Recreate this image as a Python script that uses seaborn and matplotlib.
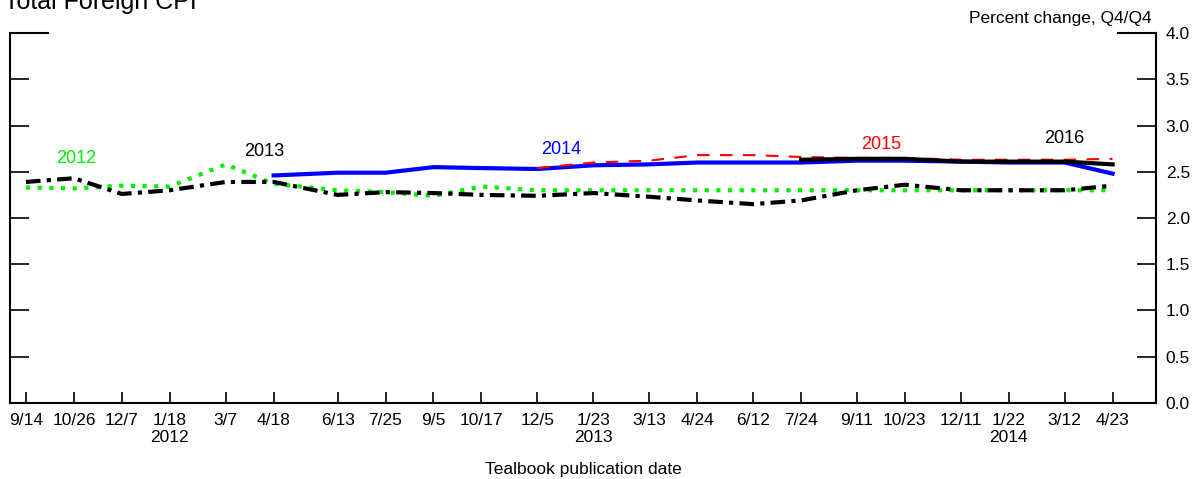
import pandas as pd
import seaborn as sns
import matplotlib.pyplot as plt

# Tealbook publication dates (x axis)
pub_dates = ['2011-09-14', '2011-10-26', '2011-12-07', '2012-01-18', '2012-03-07', '2012-04-18',
             '2012-06-13', '2012-07-25', '2012-09-05', '2012-10-17', '2012-12-05', '2013-01-23',
             '2013-03-13', '2013-04-24', '2013-06-12', '2013-07-24', '2013-09-11', '2013-10-23',
             '2013-12-11', '2014-01-22', '2014-03-12', '2014-04-23']
tick_labels = ['9/14', '10/26', '12/7', '1/18\n2012', '3/7', '4/18', '6/13', '7/25', '9/5', '10/17',
               '12/5', '1/23\n2013', '3/13', '4/24', '6/12', '7/24', '9/11', '10/23', '12/11',
               '1/22\n2014', '3/12', '4/23']

# forecasts, percent change Q4/Q4
y2012 = [2.33, 2.32, 2.35, 2.34, 2.58, 2.37, 2.30, 2.28, 2.24, 2.34, 2.30, 2.30,
         2.30, 2.30, 2.30, 2.30, 2.30, 2.30, 2.30, 2.30, 2.30, 2.30]
y2013 = [2.39, 2.43, 2.26, 2.30, 2.39, 2.39, 2.25, 2.28, 2.27, 2.25, 2.24, 2.27,
         2.23, 2.19, 2.15, 2.19, 2.30, 2.36, 2.30, 2.30, 2.30, 2.35]
y2014 = [2.46, 2.49, 2.49, 2.55, 2.54, 2.53, 2.57, 2.58, 2.60, 2.60, 2.60, 2.62,
         2.62, 2.61, 2.60, 2.60, 2.48]
y2015 = [2.54, 2.60, 2.62, 2.68, 2.68, 2.66, 2.65, 2.65, 2.63, 2.63, 2.63, 2.64]
y2016 = [2.63, 2.64, 2.64, 2.61, 2.61, 2.61, 2.58]

dates = pd.to_datetime(pub_dates)

plt.rcParams['font.family'] = ['Liberation Sans', 'DejaVu Sans']
fig = plt.figure(figsize=(12.02, 4.79), dpi=100)
ax = fig.add_axes([0.0083, 0.1587, 0.9534, 0.7723])

sns.lineplot(x=dates, y=y2012, ax=ax, color='#00ee00', linewidth=3,
             linestyle=(0, (1, 1.8)))
sns.lineplot(x=dates, y=y2013, ax=ax, color='black', linewidth=3,
             linestyle=(0, (3.5, 1.5, 1, 1.5)))
sns.lineplot(x=dates[5:], y=y2014, ax=ax, color='#0000ff', linewidth=3)
sns.lineplot(x=dates[10:], y=y2015, ax=ax, color='#ff0000', linewidth=1.5,
             linestyle=(0, (6, 5)))
sns.lineplot(x=dates[15:], y=y2016, ax=ax, color='black', linewidth=3)

fs = 12.5
ax.text(pd.Timestamp('2011-10-28'), 2.64, '2012', color='#00ee00', fontsize=13, ha='center', va='center')
ax.text(pd.Timestamp('2012-04-10'), 2.72, '2013', color='black', fontsize=13, ha='center', va='center')
ax.text(pd.Timestamp('2012-12-26'), 2.74, '2014', color='#0000ff', fontsize=13, ha='center', va='center')
ax.text(pd.Timestamp('2013-10-02'), 2.80, '2015', color='#ff0000', fontsize=13, ha='center', va='center')
ax.text(pd.Timestamp('2014-03-12'), 2.86, '2016', color='black', fontsize=13, ha='center', va='center')

ax.set_xlim(pd.Timestamp('2011-08-31'), pd.Timestamp('2014-05-31'))
ax.set_ylim(0, 4)
ax.set_xticks(dates)
ax.set_xticklabels(tick_labels, fontsize=fs, linespacing=1.2)
ax.xaxis.set_minor_locator(plt.NullLocator())
ax.tick_params(axis='x', direction='in', length=8, width=1.2, pad=7)

yt = [0, 0.5, 1, 1.5, 2, 2.5, 3, 3.5, 4]
ax.set_yticks(yt)
ax.tick_params(axis='y', which='both', direction='in', length=14, width=1.2,
               left=True, right=True, labelleft=False, labelright=True, labelsize=fs, pad=7)
ax.set_yticklabels(['%.1f' % v for v in yt])

ax.spines['top'].set_visible(False)
for s in ['left', 'right', 'bottom']:
    ax.spines[s].set_linewidth(1.5)
ax.plot([0, 0.033], [1, 1], transform=ax.transAxes, color='black', lw=1.5, clip_on=False)
ax.plot([0.967, 1], [1, 1], transform=ax.transAxes, color='black', lw=1.5, clip_on=False)

ax.set_xlabel('Tealbook publication date', fontsize=fs, labelpad=12)
ax.set_ylabel('')
fig.text(0.958, 0.952, 'Percent change, Q4/Q4', fontsize=fs, ha='right', va='baseline')
fig.text(0.003, 0.982, 'Total Foreign CPI', fontsize=18, ha='left', va='baseline')

plt.savefig('out.png', dpi=100)
